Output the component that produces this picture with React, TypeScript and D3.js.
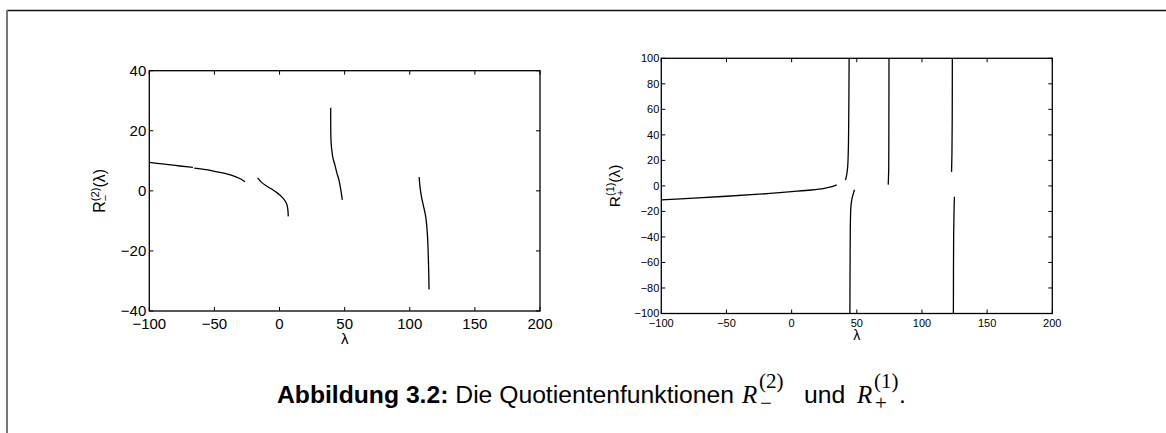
import React from "react";
import * as d3 from "d3";

type Pt = [number, number];

// Axis ticks
const xTicks = [-100, -50, 0, 50, 100, 150, 200];
const leftYTicks = [-40, -20, 0, 20, 40];
const rightYTicks = [-100, -80, -60, -40, -20, 0, 20, 40, 60, 80, 100];

// R_-^(2)(λ): branches between the poles
const minusBranch1a: Pt[] = [[-100, 9.45], [-90, 8.95], [-80, 8.45], [-70, 7.95], [-66.5, 7.8]];
const minusBranch1b: Pt[] = [[-65.5, 7.6], [-55, 6.95], [-48, 6.3], [-40, 5.6], [-35.5, 5.0], [-31, 4.2], [-28.5, 3.6], [-26.5, 3.0]];
const minusBranch2: Pt[] = [[-16.8, 4.3], [-14, 2.9], [-10, 1.6], [-6, 0.6], [-3, -0.3], [0, -1.3], [3, -2.6], [5, -3.9], [6, -5.2], [6.5, -6.8], [6.7, -8.5]];
const minusBranch3: Pt[] = [[39.3, 27.7], [39.3, 22], [39.5, 17], [40, 14], [41, 11], [42.5, 8.6], [44, 6], [45.5, 3.8], [46.8, 1], [47.7, -1.5], [48.2, -3]];
const minusBranch4: Pt[] = [[107.2, 4.6], [107.8, 1.5], [109, -2], [110.5, -5], [112, -8], [112.9, -11], [113.6, -15], [114.1, -20], [114.5, -26], [114.8, -32.8]];

// R_+^(1)(λ): branches between the poles
const plusBranchA: Pt[] = [[-100, -11], [-75, -9.6], [-50, -8.1], [-25, -6.5], [0, -4.5], [15, -3.2], [25, -1.9], [31, -0.6], [34.6, 0.8]];
const plusBranchB: Pt[] = [[41.3, 4.5], [42.3, 9], [43, 15], [43.5, 28], [43.8, 50], [44.1, 100]];
const plusBranchC: Pt[] = [[48.2, -3], [47.2, -6.5], [46.2, -10.5], [45.5, -16], [45.1, -28], [44.9, -50], [44.7, -100]];
const plusBranchD: Pt[] = [[74.1, 1], [74.3, 6], [74.5, 15], [74.6, 40], [74.7, 100]];
const plusBranchE: Pt[] = [[122.7, 11], [123, 25], [123.2, 50], [123.3, 100]];
const plusBranchF: Pt[] = [[124.9, -8.5], [124.6, -20], [124.3, -40], [124.1, -100]];

const SANS = "'Liberation Sans', Arial, Helvetica, sans-serif";
const SERIF = "'Liberation Serif', 'Times New Roman', serif";

interface PanelProps {
  id: string;
  left: number;
  right: number;
  top: number;
  bottom: number;
  yDomain: [number, number];
  yTicks: number[];
  branches: Pt[][];
  tickFont: number;
  tickGap: number;
  xLabelDy: number;
  lambdaY: number;
  lambdaFont: number;
  yLabelX: number;
  yLabelFont: number;
  sup: string;
  sub: string;
}

function Panel(p: PanelProps) {
  const x = d3.scaleLinear().domain([-100, 200]).range([p.left, p.right]);
  const y = d3.scaleLinear().domain(p.yDomain).range([p.bottom, p.top]);
  const line = d3
    .line<Pt>()
    .x((d) => x(d[0]))
    .y((d) => y(d[1]))
    .curve(d3.curveCatmullRom.alpha(0.5));
  const tl = 4;
  const cy = (p.top + p.bottom) / 2;
  const cx = (p.left + p.right) / 2;
  const supSize = p.yLabelFont * 0.7;
  const supW = supSize * 1.222;
  const subW = supSize * 0.584;
  return (
    <g>
      <defs>
        <clipPath id={p.id}>
          <rect x={p.left} y={p.top} width={p.right - p.left} height={p.bottom - p.top} />
        </clipPath>
      </defs>
      <g clipPath={`url(#${p.id})`} fill="none" stroke="#000" strokeWidth={1.3}>
        {p.branches.map((b, i) => (
          <path key={i} d={line(b) || ""} />
        ))}
      </g>
      <rect
        x={p.left}
        y={p.top}
        width={p.right - p.left}
        height={p.bottom - p.top}
        fill="none"
        stroke="#000"
        strokeWidth={1.3}
      />
      <g stroke="#000" strokeWidth={1}>
        {xTicks.map((t) => (
          <g key={"x" + t}>
            <line x1={x(t)} x2={x(t)} y1={p.bottom} y2={p.bottom - tl} />
            <line x1={x(t)} x2={x(t)} y1={p.top} y2={p.top + tl} />
          </g>
        ))}
        {p.yTicks.map((t) => (
          <g key={"y" + t}>
            <line x1={p.left} x2={p.left + tl} y1={y(t)} y2={y(t)} />
            <line x1={p.right} x2={p.right - tl} y1={y(t)} y2={y(t)} />
          </g>
        ))}
      </g>
      <g fontFamily={SANS} fontSize={p.tickFont} fill="#000">
        {xTicks.map((t) => (
          <text key={"xl" + t} x={x(t)} y={p.bottom + p.xLabelDy} textAnchor="middle">
            {t < 0 ? "\u2212" + Math.abs(t) : String(t)}
          </text>
        ))}
        {p.yTicks.map((t) => (
          <text key={"yl" + t} x={p.left - p.tickGap} y={y(t)} dy="0.36em" textAnchor="end">
            {t < 0 ? "\u2212" + Math.abs(t) : String(t)}
          </text>
        ))}
      </g>
      <text x={cx} y={p.lambdaY} textAnchor="middle" fontFamily={SANS} fontSize={p.lambdaFont}>
        λ
      </text>
      <text
        transform={`translate(${p.yLabelX},${cy}) rotate(-90)`}
        textAnchor="middle"
        fontFamily={SANS}
        fontSize={p.yLabelFont}
      >
        R
        <tspan fontSize={supSize} dy={-p.yLabelFont * 0.4}>
          ({p.sup})
        </tspan>
        <tspan fontSize={supSize} dx={-supW} dy={p.yLabelFont * 0.65}>
          {p.sub === "-" ? "\u2212" : p.sub}
        </tspan>
        <tspan dx={supW - subW} dy={-p.yLabelFont * 0.25}>
          (λ)
        </tspan>
      </text>
    </g>
  );
}

export default function App() {
  const capY = 403;
  return (
    <svg
      width={1166}
      height={433}
      style={{ position: "absolute", left: 0, top: 0, background: "#fff" }}
    >
      <rect x={0} y={0} width={1166} height={433} fill="#fff" />
      {/* page frame */}
      <line x1={7} x2={1166} y1={10.5} y2={10.5} stroke="#111" strokeWidth={1.5} />
      <line x1={7} x2={7} y1={10} y2={433} stroke="#777" strokeWidth={2} />

      <Panel
        id="clipMinus"
        left={149.3}
        right={540}
        top={70.7}
        bottom={311}
        yDomain={[-40, 40]}
        yTicks={leftYTicks}
        branches={[minusBranch1a, minusBranch1b, minusBranch2, minusBranch3, minusBranch4]}
        tickFont={15}
        tickGap={3}
        xLabelDy={18}
        lambdaY={344}
        lambdaFont={15}
        yLabelX={105}
        yLabelFont={16}
        sup="2"
        sub="-"
      />
      <Panel
        id="clipPlus"
        left={661.3}
        right={1052.3}
        top={58.3}
        bottom={313.5}
        yDomain={[-100, 100]}
        yTicks={rightYTicks}
        branches={[plusBranchA, plusBranchB, plusBranchC, plusBranchD, plusBranchE, plusBranchF]}
        tickFont={11}
        tickGap={2}
        xLabelDy={13}
        lambdaY={340}
        lambdaFont={14}
        yLabelX={620}
        yLabelFont={15.5}
        sup="1"
        sub="+"
      />

      {/* caption */}
      <text x={277} y={capY} fontFamily={SANS} fontSize={24.7} fill="#000">
        <tspan fontWeight="bold">Abbildung 3.2:</tspan>
        <tspan> Die Quotientenfunktionen</tspan>
      </text>
      <g fontFamily={SERIF} fill="#000">
        <text x={742} y={capY} fontSize={25} fontStyle="italic">R</text>
        <text x={759} y={capY - 15} fontSize={21}>(2)</text>
        <text x={760} y={capY + 7} fontSize={21}>−</text>
        <text x={857} y={capY} fontSize={25} fontStyle="italic">R</text>
        <text x={874} y={capY - 15} fontSize={21}>(1)</text>
        <text x={875} y={capY + 7} fontSize={21}>+</text>
      </g>
      <text x={804} y={capY} fontFamily={SANS} fontSize={24.7}>und</text>
      <text x={899} y={capY} fontFamily={SANS} fontSize={24.7}>.</text>
    </svg>
  );
}
